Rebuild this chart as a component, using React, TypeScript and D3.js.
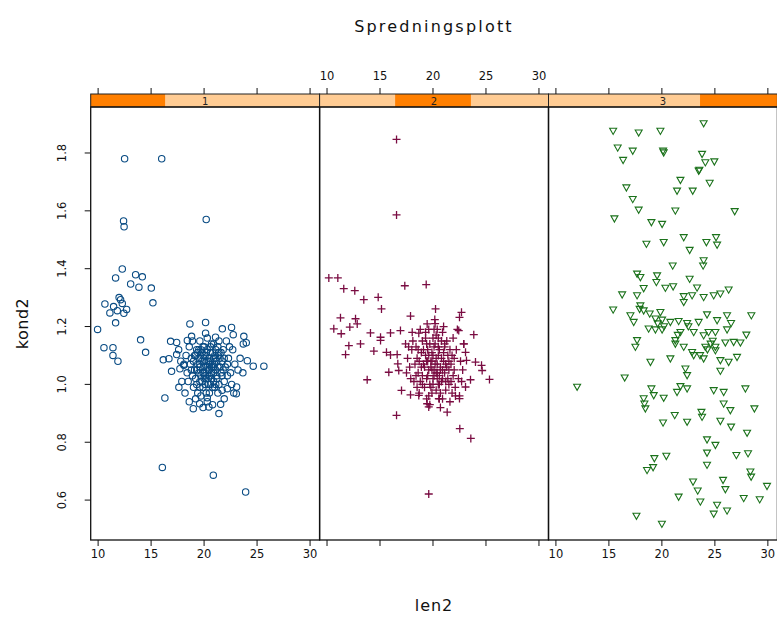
import React from "react";
import * as d3 from "d3";

// len2 / kond2 pairs for each shingle level of the conditioning variable
const level1: [number, number][] = [
  [12.5, 1.78], [16.0, 1.78], [20.2, 1.57], [12.4, 1.565], [12.45, 1.545],
  [12.28, 1.399], [11.65, 1.368], [13.54, 1.379], [14.17, 1.372], [13.07, 1.347],
  [13.85, 1.336], [15.02, 1.333], [15.17, 1.282], [12.12, 1.293], [10.64, 1.278],
  [12.28, 1.28], [11.81, 1.255], [12.43, 1.246], [11.11, 1.247], [11.65, 1.213],
  [9.95, 1.19], [10.55, 1.127], [11.4, 1.127], [11.4, 1.1], [11.87, 1.08],
  [14.01, 1.154], [14.48, 1.111], [11.98, 1.3], [11.46, 1.269], [12.69, 1.259],
  [18.66, 1.209], [20.14, 1.214], [21.72, 1.192], [22.59, 1.197], [22.75, 1.172],
  [23.75, 1.166], [23.98, 1.144], [23.7, 1.14], [24.08, 1.082], [24.64, 1.063],
  [25.64, 1.063], [23.66, 1.04], [23.07, 0.991], [23.04, 0.968], [22.19, 0.985],
  [21.56, 0.931], [21.4, 0.899], [20.45, 0.922], [20.3, 0.954], [19.58, 0.933],
  [18.98, 0.916], [17.62, 0.99], [16.3, 0.953], [16.93, 1.045], [16.15, 1.085],
  [16.68, 1.089], [17.41, 1.103], [16.84, 1.149], [17.41, 1.145], [18.42, 1.152],
  [18.82, 1.166], [20.14, 1.177], [21.08, 1.163], [17.72, 1.054], [18.09, 1.066],
  [16.06, 0.713], [20.87, 0.686], [23.92, 0.628],
  [19.2, 1.1], [19.8, 1.08], [20.4, 1.05], [21.0, 1.07], [20.1, 1.03], [19.5, 1.04],
  [20.8, 1.11], [21.5, 1.09], [22.0, 1.06], [20.6, 1.0], [19.9, 0.99], [21.2, 1.02],
  [18.7, 1.07], [18.9, 1.03], [19.3, 1.12], [20.0, 1.13], [20.9, 1.14], [21.8, 1.12],
  [22.3, 1.09], [22.5, 1.04], [21.9, 1.01], [21.3, 0.97], [20.5, 0.97], [19.7, 0.96],
  [19.0, 0.99], [18.5, 1.01], [18.3, 1.1], [18.6, 1.13], [19.6, 1.15], [20.3, 1.16],
  [21.4, 1.15], [22.1, 1.15], [22.7, 1.12], [22.9, 1.07], [22.6, 1.0], [21.7, 0.98],
  [20.2, 1.08], [20.7, 1.06], [20.0, 1.06], [19.4, 1.07], [19.6, 1.01], [20.4, 1.02],
  [21.1, 1.05], [21.6, 1.04], [20.5, 1.09], [19.1, 1.05], [20.9, 1.01], [21.4, 1.11],
  [19.8, 1.11], [20.1, 1.1], [20.6, 1.13], [21.2, 1.08], [19.3, 1.0], [18.8, 1.05],
  [22.2, 1.03], [22.4, 1.13], [21.0, 0.99], [20.3, 0.94], [19.2, 0.95], [18.4, 1.04],
  [18.1, 1.07], [23.2, 1.05], [23.4, 1.09], [17.9, 1.01], [18.2, 0.97], [21.9, 0.95],
  [22.8, 0.97], [20.8, 0.93], [19.9, 0.92], [18.6, 0.94], [20.7, 1.04], [20.2, 1.05],
  [19.7, 1.09], [21.3, 1.06], [20.0, 1.02], [20.5, 1.07], [21.7, 1.08], [19.5, 1.12],
  [20.9, 1.09], [21.1, 1.12], [18.9, 1.15], [17.6, 1.12], [17.8, 1.08],
  [19.6, 1.06], [19.9, 1.04], [20.2, 1.02], [20.5, 1.05], [20.8, 1.07], [21.1, 1.09],
  [20.6, 1.11], [20.3, 1.12], [19.9, 1.1], [19.5, 1.09], [19.3, 1.05], [19.7, 1.03],
  [20.0, 1.08], [20.4, 1.08], [20.9, 1.04], [21.2, 1.03], [21.5, 1.06], [21.3, 1.1],
  [20.7, 1.02], [20.1, 1.0], [19.6, 0.99], [19.2, 1.02], [19.0, 1.08], [19.4, 1.11],
  [20.6, 1.08], [20.3, 1.06], [20.9, 1.06], [21.0, 1.1], [21.6, 1.11], [21.8, 1.05],
  [21.4, 1.0], [20.8, 0.99], [20.2, 0.97], [19.8, 1.01], [19.1, 1.1], [18.8, 1.09],
  [19.9, 1.13], [20.7, 1.14], [21.9, 1.09], [22.2, 1.07], [20.4, 1.0], [20.0, 1.04],
  [19.6, 1.07], [20.5, 1.03], [21.1, 1.0], [19.4, 0.97], [21.7, 1.03], [20.2, 1.11],
  [19.7, 1.12], [21.3, 1.13],
];

const level2: [number, number][] = [
  [16.56, 1.847], [16.56, 1.586], [10.17, 1.368], [11.02, 1.368], [11.58, 1.331],
  [12.62, 1.324], [17.34, 1.341], [19.36, 1.345], [13.47, 1.293], [14.83, 1.301],
  [15.14, 1.261], [11.27, 1.23], [12.69, 1.227], [12.85, 1.209], [10.64, 1.192],
  [12.15, 1.198], [11.34, 1.175], [14.1, 1.178], [15.05, 1.163], [15.99, 1.178],
  [16.93, 1.186], [17.88, 1.236], [18.04, 1.18], [18.66, 1.177], [19.45, 1.209],
  [20.24, 1.261], [20.17, 1.224], [22.69, 1.249], [22.5, 1.232], [22.43, 1.186],
  [23.85, 1.172], [12.06, 1.134], [13.16, 1.14], [11.75, 1.103], [14.42, 1.115],
  [15.05, 1.152], [15.61, 1.111], [15.99, 1.102], [16.62, 1.103], [17.41, 1.14],
  [16.68, 1.071], [16.77, 1.048], [15.83, 1.042], [13.79, 1.016], [17.03, 0.979],
  [17.88, 0.964], [18.66, 0.962], [19.45, 0.933], [19.6, 0.922], [20.55, 0.951],
  [22.12, 0.96], [22.5, 0.951], [23.07, 0.991], [23.54, 1.016], [25.33, 1.017],
  [24.64, 1.048], [24.58, 1.066], [24.01, 1.077], [23.16, 1.083], [23.07, 1.111],
  [22.91, 1.14], [21.34, 0.904], [16.56, 0.893], [22.53, 0.847], [23.57, 0.813],
  [19.6, 0.621],
  [18.0, 1.12], [18.5, 1.09], [19.0, 1.15], [19.5, 1.12], [20.0, 1.1], [20.5, 1.13],
  [21.0, 1.11], [21.5, 1.08], [22.0, 1.05], [21.7, 1.01], [21.2, 0.98], [20.6, 1.0],
  [20.1, 1.03], [19.6, 1.05], [19.1, 1.07], [18.6, 1.04], [18.2, 1.01], [17.8, 1.06],
  [18.4, 1.13], [19.3, 1.18], [20.3, 1.17], [21.3, 1.15], [22.2, 1.12], [22.6, 1.08],
  [22.4, 1.02], [21.8, 0.97], [20.9, 0.95], [19.9, 0.97], [19.2, 0.99], [18.7, 0.97],
  [20.2, 1.07], [20.7, 1.06], [19.8, 1.08], [19.4, 1.02], [20.4, 1.04], [21.1, 1.04],
  [20.8, 1.09], [19.7, 1.14], [20.9, 1.18], [21.6, 1.12], [18.9, 1.11], [18.3, 1.07],
  [17.6, 1.09], [17.9, 1.02], [19.0, 1.03], [20.0, 1.0], [21.4, 1.02], [22.1, 0.99],
  [22.8, 1.05], [22.9, 1.14], [21.9, 1.16], [21.0, 1.2], [20.2, 1.21], [19.6, 1.19],
  [18.8, 1.19], [19.5, 1.08], [20.5, 1.1], [21.2, 1.07], [20.3, 0.98], [19.7, 0.93],
  [20.7, 0.92], [18.5, 0.99], [17.7, 1.13], [22.3, 1.19], [21.5, 1.05], [20.1, 1.13],
  [19.9, 1.05], [20.6, 1.03], [19.3, 1.1], [21.8, 1.1], [22.5, 0.96], [18.1, 1.15],
  [20.8, 1.01], [19.4, 0.95], [21.6, 0.94], [20.4, 1.19], [18.7, 1.08], [21.1, 1.14],
  [22.7, 1.01], [17.5, 1.04],
  [19.8, 1.06], [20.1, 1.05], [20.4, 1.07], [20.7, 1.05], [21.0, 1.08], [20.3, 1.09],
  [19.9, 1.11], [19.6, 1.1], [19.2, 1.06], [19.5, 1.03], [20.0, 1.02], [20.5, 1.0],
  [20.9, 1.02], [21.3, 1.06], [21.4, 1.1], [20.6, 1.12], [20.2, 1.14], [19.4, 1.14],
  [18.9, 1.06], [19.0, 1.0], [19.8, 0.99], [20.7, 0.97], [21.5, 1.0], [21.7, 1.07],
  [21.1, 1.13], [20.0, 1.16], [19.3, 1.16], [18.6, 1.12], [18.4, 1.03], [19.7, 1.0],
  [20.4, 1.02], [20.9, 1.05], [20.3, 1.04], [19.9, 1.08], [19.4, 1.08], [21.2, 1.01],
  [20.6, 0.95], [19.6, 0.96], [22.0, 1.09], [21.9, 1.03], [20.8, 1.15], [20.1, 1.19],
  [20.5, 1.16], [19.1, 1.12], [18.8, 1.01],
];

const level3: [number, number][] = [
  [23.94, 1.902], [15.4, 1.876], [17.81, 1.87], [19.86, 1.876], [15.83, 1.818],
  [17.25, 1.807], [20.11, 1.807], [20.17, 1.801], [16.34, 1.775], [23.79, 1.796],
  [24.1, 1.767], [24.95, 1.77], [23.54, 1.741], [23.47, 1.738], [21.75, 1.706],
  [24.51, 1.696], [21.43, 1.669], [22.91, 1.669], [16.65, 1.68], [17.25, 1.64],
  [17.81, 1.603], [21.27, 1.6], [26.87, 1.598], [15.52, 1.573], [19.01, 1.56],
  [20.02, 1.554], [22.06, 1.508], [25.11, 1.508], [25.21, 1.482], [24.2, 1.491],
  [20.17, 1.491], [18.54, 1.485], [22.62, 1.464], [23.94, 1.428], [23.89, 1.41],
  [21.02, 1.41], [17.66, 1.382], [17.97, 1.37], [19.55, 1.376], [19.48, 1.353],
  [22.62, 1.364], [26.3, 1.327], [18.28, 1.332], [20.33, 1.333], [21.06, 1.338],
  [23.32, 1.334], [16.25, 1.31], [17.66, 1.307], [22.06, 1.304], [22.85, 1.307],
  [23.94, 1.301], [24.89, 1.307], [25.52, 1.313], [22.06, 1.284], [15.4, 1.258],
  [17.97, 1.272], [18.28, 1.255], [18.85, 1.244], [19.86, 1.249], [17.03, 1.238],
  [17.34, 1.215], [19.39, 1.227], [20.02, 1.223], [20.8, 1.215], [21.58, 1.218],
  [22.38, 1.211], [23.47, 1.215], [24.26, 1.241], [25.21, 1.221], [26.15, 1.238],
  [26.53, 1.211], [28.44, 1.238], [18.75, 1.192], [19.39, 1.189], [20.02, 1.189],
  [21.75, 1.18], [23.0, 1.18], [23.94, 1.169], [25.05, 1.18], [26.15, 1.189],
  [27.97, 1.171], [21.27, 1.152], [21.27, 1.14], [22.06, 1.129], [22.85, 1.111],
  [24.1, 1.129], [25.05, 1.129], [25.99, 1.144], [26.77, 1.146], [27.41, 1.144],
  [17.66, 1.152], [17.5, 1.129], [23.0, 1.1], [23.94, 1.089], [25.05, 1.117],
  [25.52, 1.083], [26.3, 1.077], [27.09, 1.094], [18.92, 1.077], [20.8, 1.089],
  [22.22, 1.054], [22.38, 1.031], [25.52, 1.046], [16.49, 1.023], [12.0, 0.991],
  [19.01, 0.985], [19.23, 0.962], [20.17, 0.953], [21.75, 0.993], [22.38, 0.985],
  [21.43, 0.973], [24.89, 0.979], [25.83, 0.973], [27.88, 0.985], [18.28, 0.951],
  [18.35, 0.933], [18.44, 0.916], [25.83, 0.933], [26.46, 0.91], [28.73, 0.916],
  [23.73, 0.904], [23.79, 0.887], [21.21, 0.893], [20.11, 0.867], [22.38, 0.87],
  [25.52, 0.873], [26.53, 0.853], [28.04, 0.832], [24.26, 0.809], [25.05, 0.79],
  [24.26, 0.763], [27.03, 0.755], [28.13, 0.761], [19.29, 0.744], [20.42, 0.752],
  [18.6, 0.703], [19.17, 0.713], [24.26, 0.721], [28.35, 0.698], [28.42, 0.68],
  [22.94, 0.663], [23.38, 0.632], [23.63, 0.594], [25.77, 0.669], [25.99, 0.637],
  [21.58, 0.611], [27.72, 0.606], [29.23, 0.602], [29.92, 0.648], [25.21, 0.583],
  [26.15, 0.563], [24.89, 0.552], [17.6, 0.545], [20.0, 0.517],
  [24.3, 1.12], [24.6, 1.14], [24.4, 1.18], [20.2, 1.2], [21.5, 1.17], [23.6, 1.1],
  [24.8, 1.15], [19.6, 1.21], [17.9, 1.26], [22.5, 1.2],
];

const panelLabels = ["1", "2", "3"];
// shingle intervals, as fractions of the conditioning variable's range
const shingleLevels: [number, number][] = [[0, 0.325], [0.33, 0.661], [0.662, 1]];
const xTicks = [10, 15, 20, 25, 30];
const yTicks = [0.6, 0.8, 1.0, 1.2, 1.4, 1.6, 1.8];
const xLimits: [number, number] = [9.3, 30.9];
const yLimits: [number, number] = [0.462, 1.959];

const W = 777;
const H = 622;
const LEFT = 90.7;
const PANEL_W = 228.9;
const TOP = 107;
const BOTTOM = 540;
const STRIP_H = 13;
const FONT = "'DejaVu Sans', Verdana, sans-serif";

const symbolColors = ["#0a4c84", "#7a0c42", "#1b721b"];

const y = d3.scaleLinear().domain(yLimits).range([BOTTOM, TOP]);

function Marker({ kind, cx, cy, color }: { kind: number; cx: number; cy: number; color: string }) {
  if (kind === 0) {
    return <circle cx={cx} cy={cy} r={3.2} fill="none" stroke={color} strokeWidth={1.1} />;
  }
  if (kind === 1) {
    return (
      <path
        d={`M${cx - 4},${cy}H${cx + 4}M${cx},${cy - 4}V${cy + 4}`}
        stroke={color}
        strokeWidth={1.3}
        fill="none"
      />
    );
  }
  return (
    <path
      d={`M${cx - 3.5},${cy - 2.8}L${cx + 3.5},${cy - 2.8}L${cx},${cy + 3.4}Z`}
      stroke={color}
      strokeWidth={1.1}
      fill="none"
    />
  );
}

export default function App() {
  const levels = [level1, level2, level3];

  return (
    <svg
      width={W}
      height={H}
      viewBox={`0 0 ${W} ${H}`}
      style={{ position: "absolute", left: 0, top: 0, background: "#fff" }}
    >
      <text
        x={434}
        y={32}
        textAnchor="middle"
        fontFamily={FONT}
        fontSize={16}
        letterSpacing={2.2}
        fill="#111"
      >
        Spredningsplott
      </text>

      {levels.map((pts, i) => {
        const x0 = LEFT + i * PANEL_W;
        const x = d3.scaleLinear().domain(xLimits).range([x0, x0 + PANEL_W]);
        const strip = d3.scaleLinear().domain([0, 1]).range([x0, x0 + PANEL_W]);
        const [s0, s1] = shingleLevels[i];
        const stripTop = TOP - STRIP_H;
        const labelsTop = i === 1;
        const labelsBottom = i !== 1;
        return (
          <g key={i}>
            {/* strip */}
            <rect x={x0} y={stripTop} width={PANEL_W} height={STRIP_H} fill="#ffcc94" />
            <rect x={strip(s0)} y={stripTop} width={strip(s1) - strip(s0)} height={STRIP_H} fill="#ff7f00" />
            <rect x={x0} y={stripTop} width={PANEL_W} height={STRIP_H} fill="none" stroke="#222" strokeWidth={1} />
            <text
              x={x0 + PANEL_W / 2}
              y={stripTop + 10.5}
              textAnchor="middle"
              fontFamily={FONT}
              fontSize={10}
              fill="#222"
            >
              {panelLabels[i]}
            </text>

            {/* points */}
            <g clipPath={`url(#clip${i})`}>
              {pts.map(([a, b], k) => (
                <Marker key={k} kind={i} cx={x(a)} cy={y(b)} color={symbolColors[i]} />
              ))}
            </g>
            <clipPath id={`clip${i}`}>
              <rect x={x0} y={TOP} width={PANEL_W} height={BOTTOM - TOP} />
            </clipPath>

            {/* panel frame */}
            <rect x={x0} y={TOP} width={PANEL_W} height={BOTTOM - TOP} fill="none" stroke="#111" strokeWidth={1.3} />

            {/* top ticks */}
            {xTicks.map((t) => (
              <g key={`t${t}`}>
                <line x1={x(t)} x2={x(t)} y1={stripTop} y2={stripTop - 6} stroke="#111" strokeWidth={1} />
                {labelsTop && (
                  <text x={x(t)} y={80} textAnchor="middle" fontFamily={FONT} fontSize={11.5} fill="#111">
                    {t}
                  </text>
                )}
              </g>
            ))}

            {/* bottom ticks */}
            {xTicks.map((t) => (
              <g key={`b${t}`}>
                <line x1={x(t)} x2={x(t)} y1={BOTTOM} y2={BOTTOM + 6} stroke="#111" strokeWidth={1} />
                {labelsBottom && (
                  <text x={x(t)} y={558} textAnchor="middle" fontFamily={FONT} fontSize={11.5} fill="#111">
                    {t}
                  </text>
                )}
              </g>
            ))}
          </g>
        );
      })}

      {/* left axis */}
      {yTicks.map((t) => (
        <g key={t}>
          <line x1={LEFT - 6} x2={LEFT} y1={y(t)} y2={y(t)} stroke="#111" strokeWidth={1} />
          <text
            transform={`translate(66,${y(t)}) rotate(-90)`}
            textAnchor="middle"
            fontFamily={FONT}
            fontSize={11.5}
            fill="#111"
          >
            {t.toFixed(1)}
          </text>
        </g>
      ))}

      {/* right axis ticks */}
      {yTicks.map((t) => (
        <line key={`r${t}`} x1={LEFT + 3 * PANEL_W} x2={LEFT + 3 * PANEL_W + 6} y1={y(t)} y2={y(t)} stroke="#111" strokeWidth={1} />
      ))}

      <text x={434} y={611} textAnchor="middle" fontFamily={FONT} fontSize={16} letterSpacing={1} fill="#111">
        len2
      </text>
      <text
        transform={`translate(28,${(TOP + BOTTOM) / 2}) rotate(-90)`}
        textAnchor="middle"
        fontFamily={FONT}
        fontSize={16}
        letterSpacing={0.5}
        fill="#111"
      >
        kond2
      </text>
    </svg>
  );
}
